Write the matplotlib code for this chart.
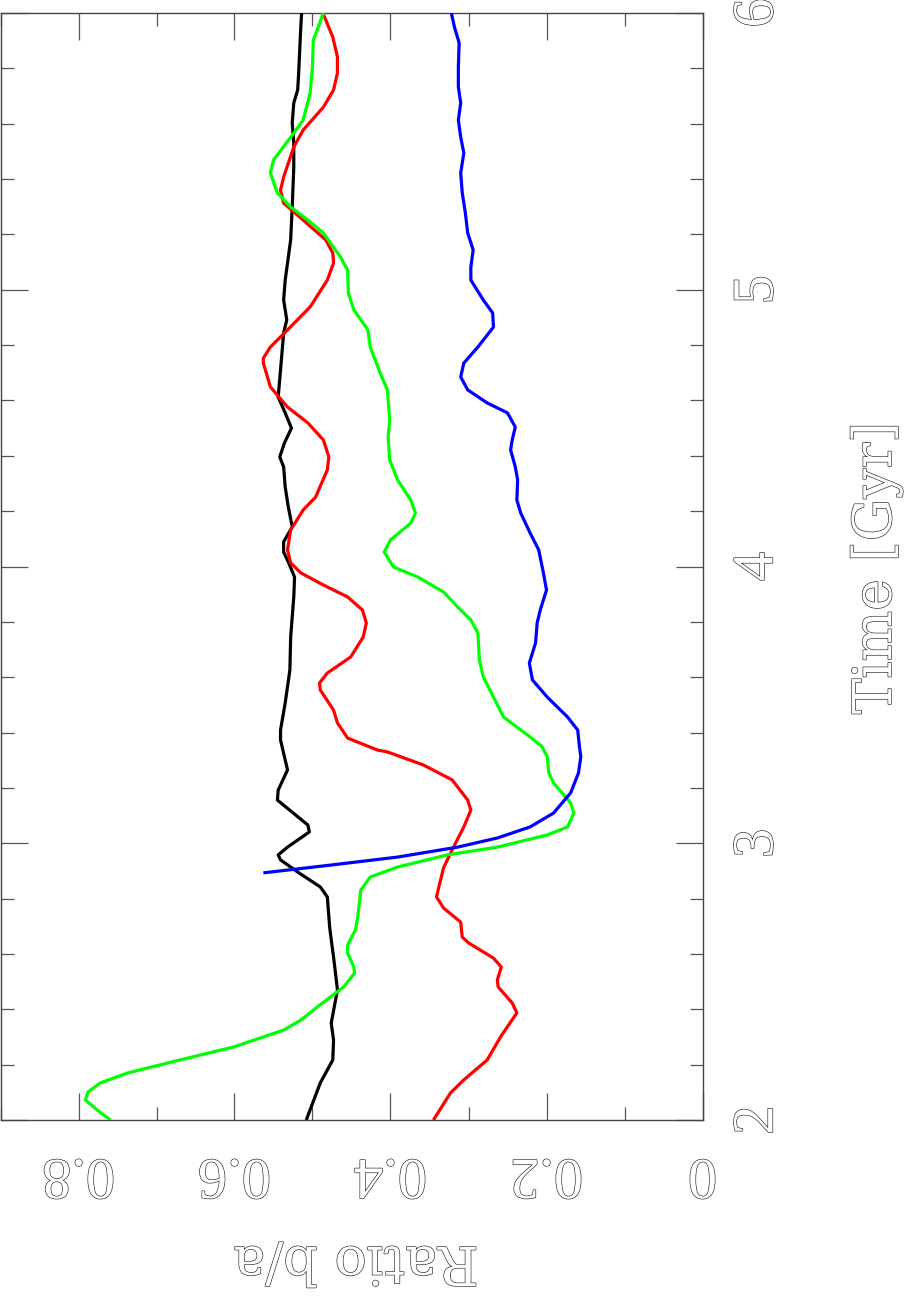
import matplotlib
matplotlib.use("Agg")
import matplotlib.pyplot as plt
import matplotlib.patheffects as pe
from matplotlib.transforms import ScaledTranslation
from matplotlib.ticker import MultipleLocator

# Axis ratio b/a versus time for four runs
black_t = [2.000, 2.134, 2.217, 2.289, 2.350, 2.470, 2.589, 2.630, 2.697, 2.806, 2.842,
           2.896, 2.940, 2.958, 2.986, 3.041, 3.066, 3.156, 3.192, 3.265, 3.301, 3.373,
           3.409, 3.507, 3.626, 3.745, 3.890, 3.962, 4.016, 4.052, 4.089, 4.143, 4.215,
           4.287, 4.360, 4.396, 4.446, 4.500, 4.555, 4.612, 4.710, 4.844, 4.891, 4.963,
           5.035, 5.180, 5.299, 5.444, 5.530, 5.603, 5.675, 5.722, 5.769, 5.949, 6.000]
black_r = [0.508, 0.490, 0.474, 0.473, 0.476, 0.468, 0.473, 0.475, 0.478, 0.481, 0.490,
           0.519, 0.541, 0.544, 0.532, 0.504, 0.506, 0.545, 0.544, 0.532, 0.535, 0.541,
           0.541, 0.535, 0.529, 0.528, 0.524, 0.523, 0.531, 0.537, 0.537, 0.526, 0.531,
           0.535, 0.537, 0.542, 0.536, 0.527, 0.535, 0.544, 0.541, 0.537, 0.533, 0.537,
           0.535, 0.528, 0.526, 0.524, 0.524, 0.526, 0.524, 0.519, 0.518, 0.515, 0.514]

red_t = [2.000, 2.098, 2.145, 2.217, 2.300, 2.387, 2.423, 2.481, 2.506, 2.553, 2.585,
         2.640, 2.661, 2.715, 2.766, 2.806, 2.842, 2.911, 2.976, 3.059, 3.120, 3.156,
         3.229, 3.283, 3.330, 3.337, 3.380, 3.435, 3.481, 3.554, 3.579, 3.615, 3.673,
         3.745, 3.796, 3.843, 3.890, 3.933, 3.977, 4.013, 4.060, 4.132, 4.204, 4.251,
         4.349, 4.396, 4.457, 4.519, 4.576, 4.649, 4.735, 4.753, 4.793, 4.855, 4.938,
         5.035, 5.097, 5.133, 5.180, 5.252, 5.313, 5.360, 5.407, 5.516, 5.577, 5.660,
         5.722, 5.783, 5.841, 5.913, 5.975, 6.000]
red_r = [0.345, 0.323, 0.306, 0.276, 0.259, 0.238, 0.244, 0.262, 0.263, 0.258, 0.268,
         0.300, 0.308, 0.310, 0.332, 0.341, 0.338, 0.332, 0.321, 0.306, 0.297, 0.301,
         0.321, 0.358, 0.404, 0.417, 0.455, 0.468, 0.473, 0.490, 0.491, 0.481, 0.451,
         0.435, 0.431, 0.436, 0.455, 0.486, 0.515, 0.528, 0.532, 0.528, 0.512, 0.496,
         0.481, 0.479, 0.486, 0.506, 0.532, 0.554, 0.563, 0.563, 0.554, 0.532, 0.503,
         0.481, 0.473, 0.474, 0.483, 0.512, 0.537, 0.541, 0.537, 0.524, 0.512, 0.486,
         0.473, 0.468, 0.468, 0.474, 0.483, 0.487]

green_t = [2.000, 2.036, 2.072, 2.101, 2.134, 2.170, 2.206, 2.264, 2.325, 2.361, 2.408,
           2.481, 2.531, 2.553, 2.603, 2.632, 2.687, 2.734, 2.831, 2.878, 2.914, 2.958,
           2.986, 3.030, 3.059, 3.109, 3.145, 3.218, 3.254, 3.312, 3.350, 3.384, 3.456,
           3.528, 3.601, 3.662, 3.760, 3.807, 3.854, 3.908, 3.962, 3.998, 4.052, 4.096,
           4.157, 4.193, 4.240, 4.313, 4.385, 4.468, 4.529, 4.638, 4.690, 4.793, 4.855,
           4.927, 4.988, 5.071, 5.118, 5.205, 5.252, 5.299, 5.350, 5.422, 5.469, 5.566,
           5.613, 5.711, 5.805, 5.902, 5.939, 6.000]
green_r = [0.759, 0.776, 0.791, 0.788, 0.772, 0.737, 0.686, 0.601, 0.537, 0.515, 0.494,
           0.460, 0.446, 0.447, 0.455, 0.455, 0.445, 0.442, 0.438, 0.426, 0.391, 0.327,
           0.263, 0.199, 0.173, 0.165, 0.169, 0.191, 0.197, 0.199, 0.206, 0.221, 0.255,
           0.268, 0.281, 0.286, 0.288, 0.297, 0.314, 0.332, 0.365, 0.396, 0.408, 0.400,
           0.374, 0.368, 0.374, 0.391, 0.401, 0.403, 0.401, 0.404, 0.412, 0.426, 0.429,
           0.447, 0.454, 0.455, 0.464, 0.486, 0.506, 0.528, 0.545, 0.554, 0.550, 0.524,
           0.512, 0.503, 0.500, 0.499, 0.494, 0.486]

blue_t = [2.893, 2.921, 2.950, 2.986, 3.019, 3.059, 3.109, 3.182, 3.254, 3.312, 3.355,
          3.409, 3.456, 3.528, 3.590, 3.651, 3.724, 3.796, 3.843, 3.915, 3.977, 4.060,
          4.121, 4.193, 4.240, 4.313, 4.360, 4.421, 4.457, 4.504, 4.555, 4.591, 4.638,
          4.685, 4.735, 4.793, 4.865, 4.916, 4.963, 5.035, 5.082, 5.144, 5.205, 5.277,
          5.350, 5.422, 5.494, 5.552, 5.613, 5.675, 5.733, 5.805, 5.892, 5.949, 6.000]
blue_r = [0.563, 0.477, 0.391, 0.314, 0.263, 0.221, 0.191, 0.169, 0.159, 0.156, 0.158,
          0.160, 0.173, 0.199, 0.218, 0.222, 0.214, 0.212, 0.208, 0.200, 0.204, 0.210,
          0.221, 0.233, 0.238, 0.237, 0.240, 0.246, 0.244, 0.240, 0.250, 0.276, 0.301,
          0.310, 0.306, 0.288, 0.268, 0.269, 0.281, 0.297, 0.297, 0.294, 0.301, 0.304,
          0.308, 0.310, 0.306, 0.310, 0.313, 0.310, 0.313, 0.313, 0.312, 0.318, 0.322]

ratio_ticks = [0.8, 0.6, 0.4, 0.2, 0.0]
ratio_labels = ["0.8", "0.6", "0.4", "0.2", "0"]
time_ticks = [2, 3, 4, 5, 6]
time_labels = ["2", "3", "4", "5", "6"]

W, H = 905, 1296
fig = plt.figure(figsize=(W / 100, H / 100), dpi=100)
# the page is turned: time runs upward, ratio runs leftward
ax = fig.add_axes([0.5 / W, 1 - 1120 / H, 702 / W, 1107 / H])

series = [(black_t, black_r, 'black'), (red_t, red_r, '#ff0000'),
          (green_t, green_r, '#00ff00'), (blue_t, blue_r, '#0000ff')]
for t, r, c in series:
    ax.plot(r, t, color=c, linewidth=2.3, solid_joinstyle='round',
            solid_capstyle='butt', zorder=3)

ax.set_xlim(0.9, 0.0)
ax.set_ylim(2, 6)

ax.xaxis.set_major_locator(MultipleLocator(0.2))
ax.xaxis.set_minor_locator(MultipleLocator(0.1))
ax.yaxis.set_major_locator(MultipleLocator(1))
ax.yaxis.set_minor_locator(MultipleLocator(0.2))
ax.tick_params(which='both', direction='in', top=True, bottom=True, left=True, right=True,
               labelbottom=False, labelleft=False, color='#555555', width=0.9)
ax.tick_params(which='major', length=19.5)
ax.tick_params(which='minor', length=9.5)
for s in ax.spines.values():
    s.set_color('#444444')
    s.set_linewidth(1.0)

# thin outlined lettering, like the old plotting package
outline = [pe.Stroke(linewidth=0.9, foreground='#222222'), pe.Normal()]
num_font = dict(family='Liberation Serif', size=42, color='white', path_effects=outline)
lab_font = dict(family='DejaVu Serif', size=38.5, color='white', path_effects=outline)

xtrans = ax.get_xaxis_transform() + ScaledTranslation(0, -0.40, fig.dpi_scale_trans)
for v, s in zip(ratio_ticks, ratio_labels):
    ax.text(v, 0, s, transform=xtrans, rotation=180, rotation_mode='anchor',
            ha='center', va='baseline', clip_on=False, **num_font)

ytrans = ax.get_yaxis_transform() + ScaledTranslation(0.70, 0, fig.dpi_scale_trans)
for v, s in zip(time_ticks, time_labels):
    ax.text(1, v, s, transform=ytrans, rotation=90, rotation_mode='anchor',
            ha='center', va='baseline', clip_on=False, **num_font)

fig.text(891 / W, 1 - 568 / H, 'Time [Gyr]', rotation=90, rotation_mode='anchor',
         ha='center', va='baseline', **lab_font)
fig.text(356 / W, 1 - 1247 / H, 'Ratio b/a', rotation=180, rotation_mode='anchor',
         ha='center', va='baseline', **lab_font)

fig.savefig('out.png', dpi=100)
